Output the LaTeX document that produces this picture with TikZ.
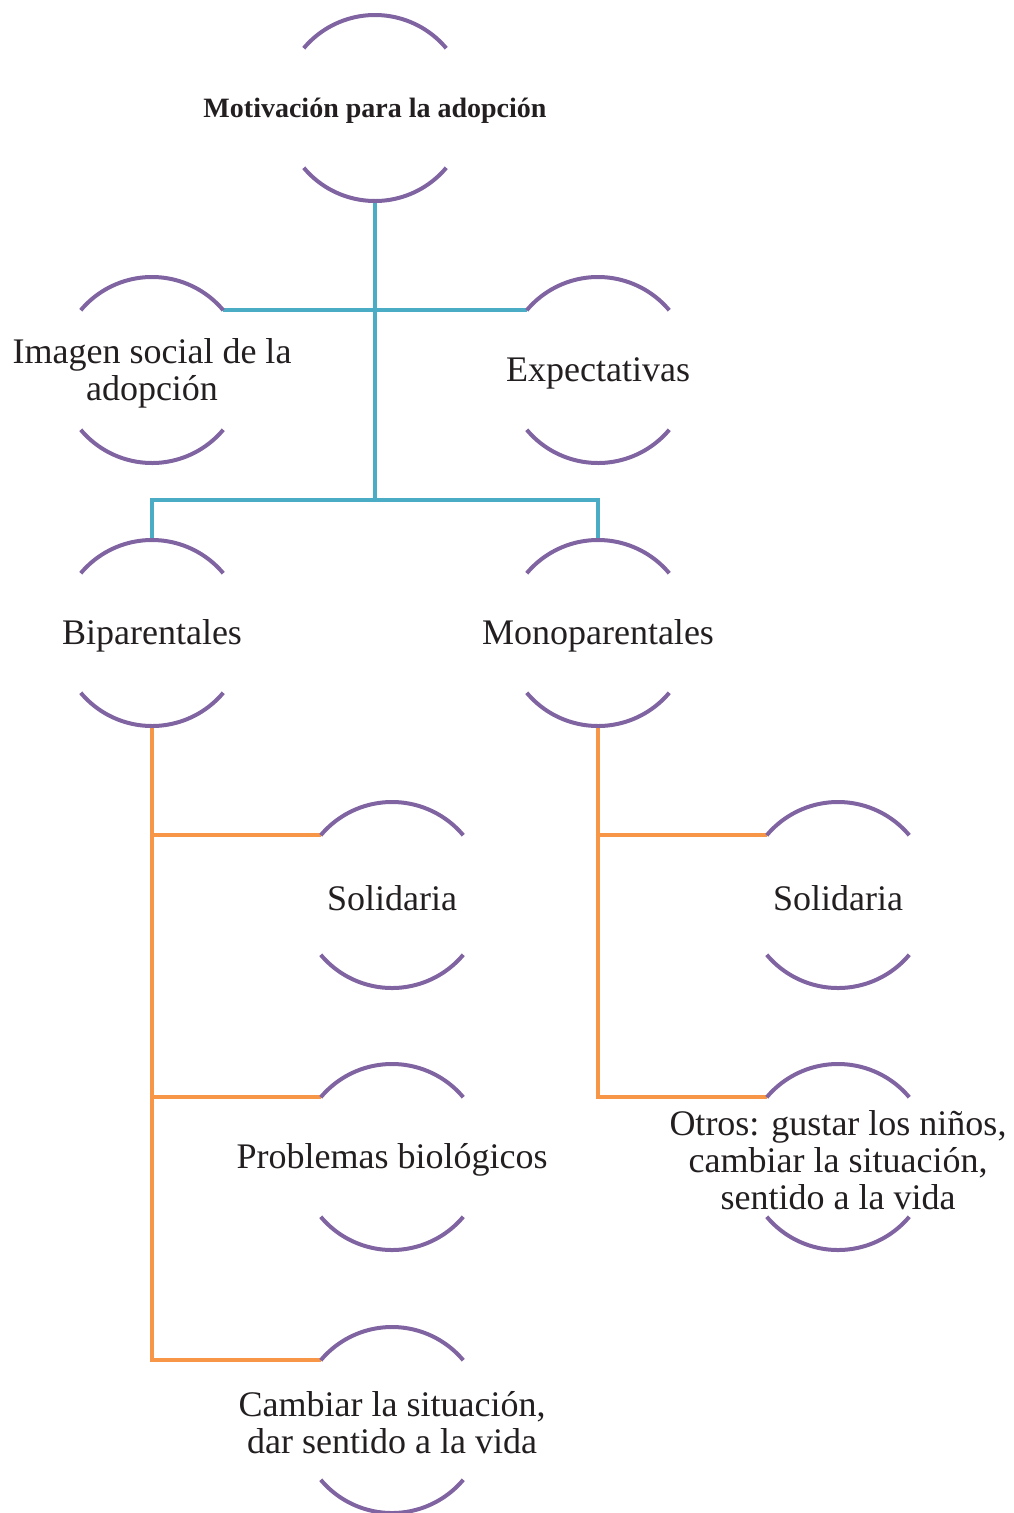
\documentclass[tikz,border=0pt]{standalone}
\usepackage{fontspec}
\setmainfont{Liberation Serif}
\definecolor{ringpurple}{HTML}{8064A2}
\definecolor{trunkblue}{HTML}{4BACC6}
\definecolor{branchorange}{HTML}{F79646}
\definecolor{inkgray}{HTML}{231F20}

\begin{document}
\begin{tikzpicture}[x=1pt,y=1pt,
  bubble/.style={circle,minimum size=186pt,inner sep=0pt,outer sep=0pt},
  txt/.style={align=center,text=inkgray,yshift=-3pt,font=\fontsize{36}{37}\selectfont},
  ring/.style={ringpurple,line width=4pt},
  bluelink/.style={trunkblue,line width=4pt},
  orangelink/.style={branchorange,line width=4pt}]
\useasboundingbox (0,0) rectangle (1014,-1513);

% circles
\node[bubble,label={[txt,font=\bfseries\fontsize{28}{30}\selectfont]center:Motivación para la adopción}] (top) at (375,-108) {};
\node[bubble,label={[txt]center:{Imagen social de la\\adopción}}] (imgsoc) at (152,-370) {};
\node[bubble,label={[txt]center:Expectativas}] (expec) at (598,-370) {};
\node[bubble,label={[txt]center:Biparentales}] (bip) at (152,-633) {};
\node[bubble,label={[txt]center:Monoparentales}] (mono) at (598,-633) {};
\node[bubble,label={[txt]center:Solidaria}] (solb) at (392,-895) {};
\node[bubble,label={[txt]center:Problemas biológicos}] (probl) at (392,-1157) {};
\node[bubble,label={[txt]center:{Cambiar la situación,\\dar sentido a la vida}}] (camb) at (392,-1420) {};
\node[bubble,label={[txt]center:Solidaria}] (solm) at (838,-895) {};
\node[bubble,label={[txt]center:{Otros: gustar los niños,\\cambiar la situación,\\sentido a la vida}}] (otros) at (838,-1157) {};
\coordinate (split) at (375,-500);

% blue links
\draw[bluelink] (top.south) -- (split);
\draw[bluelink] (imgsoc.40) -- (expec.140);
\draw[bluelink] (bip.north) |- (split) -| (mono.north);

% orange links
\draw[orangelink] (bip.south) |- (camb.140);
\draw[orangelink] (bip.south |- solb.140) -- (solb.140);
\draw[orangelink] (bip.south |- probl.140) -- (probl.140);
\draw[orangelink] (mono.south) |- (otros.140);
\draw[orangelink] (mono.south |- solm.140) -- (solm.140);

% arcs
\foreach \n in {top,imgsoc,expec,bip,mono,solb,probl,camb,solm,otros}{
  \draw[ring] (\n.40) arc[start angle=40,end angle=140,radius=93pt];
  \draw[ring] (\n.220) arc[start angle=220,end angle=320,radius=93pt];
}
\end{tikzpicture}
\end{document}
